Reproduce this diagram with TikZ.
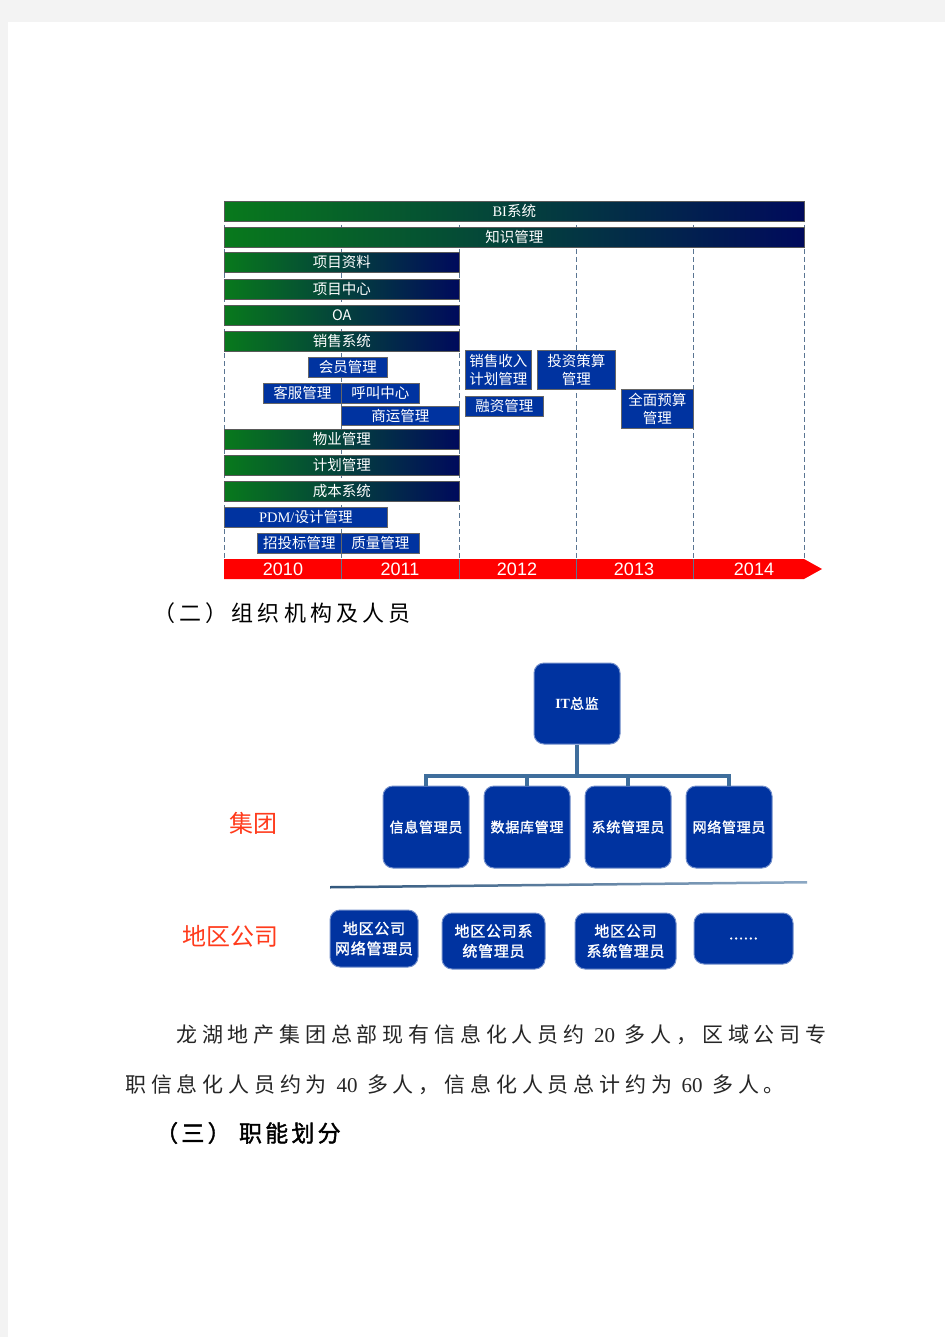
\documentclass[tikz,border=0pt]{standalone}
\usepackage{fontspec}
\setmainfont{Liberation Serif}
\setsansfont{Liberation Sans}
\newfontfamily\cjk{Noto Sans CJK SC}
\newfontfamily\cjkgras[FakeBold=1.6, LetterSpace=5]{Noto Sans CJK SC}
\newfontfamily\cjktexte[LetterSpace=23]{Noto Sans CJK SC}
\newfontfamily\cjktitre[LetterSpace=19]{Noto Sans CJK SC}
\newfontfamily\cjktitregras[LetterSpace=14, FakeBold=1.6]{Noto Sans CJK SC}
\usetikzlibrary{arrows.meta, positioning}

\definecolor{barvert}{HTML}{08791C}
\definecolor{barnuit}{HTML}{000A5C}
\definecolor{bleuboite}{HTML}{0033A0}
\definecolor{bleulien}{HTML}{3F6E9C}
\definecolor{gris}{HTML}{5A7592}
\definecolor{rougetitre}{HTML}{FF3B1C}
\definecolor{fondgris}{HTML}{F3F3F3}

\begin{document}
\begin{tikzpicture}[
    x=1pt, y=-1pt,
    node distance = 14pt and 14pt,
    grille/.style = {draw=gris, dash pattern=on 5pt off 3pt, line width=0.8pt},
    barre/.style = {rectangle, draw=black!65, line width=0.6pt, left color=barvert, right color=barnuit, text=white, inner sep=0pt, minimum height=20pt, anchor=north west, font=\cjk\fontsize{14.5}{16}\selectfont},
    tache/.style = {rectangle, draw=black!60, line width=0.6pt, fill=bleuboite, text=white, inner sep=0pt, anchor=north west, align=center, font=\cjk\fontsize{14.5}{18}\selectfont},
    annee/.style = {text=white, inner sep=0pt, font=\sffamily\fontsize{18}{18}\selectfont},
    poste/.style = {rectangle, rounded corners=10pt, draw=bleuboite!55!white, line width=1pt, fill=bleuboite, text=white, inner sep=0pt, align=center, font=\cjkgras\fontsize{14}{20}\selectfont},
    lien/.style = {draw=bleulien, line width=4pt},
    niveau/.style = {text=rougetitre, inner sep=0pt, font=\cjk\fontsize{24}{24}\selectfont},
    titre/.style = {anchor=west, inner sep=0pt, font=\cjktitre\fontsize{22}{22}\selectfont},
    texte/.style = {anchor=west, inner sep=0pt, text=black!85, font=\cjktexte\fontsize{21}{21}\selectfont},
]
    \useasboundingbox (0,0) rectangle (945,1337);
    \fill[fondgris] (0,0) rectangle (945,1337);
    \fill[white] (8,22) rectangle (945,1337);

    % Calendrier des systèmes
    \foreach \x in {224,341,459,576,693,804}
        \draw[grille] (\x,201) -- (\x,559);
    \node[barre, minimum width=580pt] (bi) at (224,201) {{\rmfamily BI}系统};
    \node[barre, minimum width=580pt] (savoir) at (224,227) {知识管理};
    \foreach \y/\t [count=\i] in {252/项目资料, 279/项目中心, 305/OA, 331/销售系统, 429/物业管理, 455/计划管理, 481/成本系统}
        \node[barre, minimum width=235pt] (ligne-\i) at (224,\y) {\t};
    \foreach \x/\y/\w/\h/\t [count=\i] in {
        308/357/79/20/会员管理, 263/383/78/20/客服管理, 341/383/78/20/呼叫中心,
        341/406/118/19/商运管理, 257/533/84/20/招投标管理, 341/533/78/20/质量管理,
        465/350/66/39/{销售收入\\计划管理}, 537/350/78/39/{投资策算\\管理},
        465/396/78/20/融资管理, 621/389/72/39/{全面预算\\管理}}
        \node[tache, minimum width=\w pt, minimum height=\h pt] (tache-\i) at (\x,\y) {\t};
    \node[tache, minimum width=163pt, minimum height=20pt] (pdm) at (224,507) {{\rmfamily PDM/}设计管理};

    \fill[red] (224,559) -- (804,559) -- (822,569) -- (804,579) -- (224,579) -- cycle;
    \foreach \x in {341,459,576,693}
        \draw[gris, line width=0.6pt] (\x,559) -- (\x,579);
    \foreach \x/\an in {283/2010, 400/2011, 517/2012, 634/2013, 754/2014}
        \node[annee] (an-\an) at (\x,569) {\an};

    \node[titre] (titre-2) at (153,613) {（二）组织机构及人员};

    % Organigramme
    \node[poste, minimum width=86pt, minimum height=81pt] (dsi) at (577,703.5) {{\rmfamily\bfseries IT}总监};
    \begin{scope}[every node/.append style={poste, minimum width=86pt, minimum height=82pt}]
        \node (info) at (426,827) {信息管理员};
        \node[right=of info] (bdd) {数据库管理};
        \node[right=of bdd] (sys) {系统管理员};
        \node[right=of sys] (reseau) {网络管理员};
    \end{scope}
    \coordinate (bus) at (577,776);
    \draw[lien] (dsi.south) -- (bus);
    \foreach \n in {info, bdd, sys, reseau}
        \draw[lien] (\n.north) |- (bus);

    \shade[left color=bleulien!80!black, right color=bleulien!60!white] (330,886) -- (807,881) -- (807,883.5) -- (330,888.5) -- cycle;

    \node[niveau] (groupe) at (253,823) {集团};
    \node[niveau] (region) at (230,936) {地区公司};

    \begin{scope}[every node/.append style={poste, font=\cjkgras\fontsize{15}{20}\selectfont}]
        \node[minimum width=88pt, minimum height=57pt] (r-1) at (374,938.5) {地区公司\\网络管理员};
        \node[minimum width=103pt, minimum height=56pt] (r-2) at (493.5,941) {地区公司系\\统管理员};
        \node[minimum width=101pt, minimum height=56pt] (r-3) at (625.5,941) {地区公司\\系统管理员};
        \node[minimum width=99pt, minimum height=51pt] (r-4) at (743.5,938.5) {......};
    \end{scope}

    \node[texte] (par-1) at (176,1035) {龙湖地产集团总部现有信息化人员约 {\rmfamily 20} 多人，区域公司专};
    \node[texte] (par-2) at (125,1085) {职信息化人员约为 {\rmfamily 40} 多人，信息化人员总计约为 {\rmfamily 60} 多人。};
    \node[titre, font=\cjktitregras\fontsize{23}{23}\selectfont] (titre-3) at (155,1133) {（三）\ 职能划分};
\end{tikzpicture}
\end{document}
